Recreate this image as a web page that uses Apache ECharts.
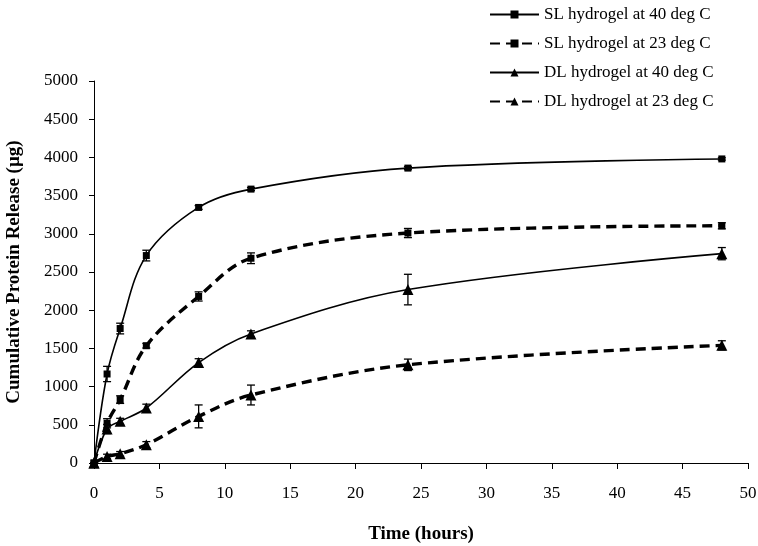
<!DOCTYPE html>
<html><head><meta charset="utf-8">
<script src="https://cdn.jsdelivr.net/npm/echarts@6/dist/echarts.min.js"></script>
<style>html,body{margin:0;padding:0;background:#fff}#c{width:758px;height:546px}</style>
</head><body><div id="c"></div>
<script>
const times = [0, 1, 2, 4, 8, 12, 24, 48];
const seriesNames = ["SL hydrogel at 40 deg C", "SL hydrogel at 23 deg C", "DL hydrogel at 40 deg C", "DL hydrogel at 23 deg C"];
const sl40 = [0, 1165, 1760, 2715, 3345, 3585, 3860, 3980];
const sl23 = [0, 520, 830, 1535, 2180, 2680, 3010, 3105];
const dl40 = [0, 445, 545, 720, 1315, 1690, 2270, 2740];
const dl23 = [0, 85, 120, 240, 610, 890, 1285, 1540];
const sl40Err = [0, 100, 70, 70, 25, 20, 20, 15];
const sl23Err = [0, 60, 50, 30, 60, 70, 60, 40];
const dl40Err = [0, 60, 40, 50, 50, 40, 200, 80];
const dl23Err = [0, 30, 30, 40, 150, 130, 75, 60];
const xTicks = [0, 5, 10, 15, 20, 25, 30, 35, 40, 45, 50];
const yTicks = [0, 500, 1000, 1500, 2000, 2500, 3000, 3500, 4000, 4500, 5000];

const FONT = '"Liberation Serif", "Times New Roman", serif';
const pair = (v) => times.map((t, i) => [t, v[i]]);
const errData = (v, e) => times.map((t, i) => [t, v[i] - e[i], v[i] + e[i]]);

function errSeries(v, e) {
  return {
    type: 'custom', silent: true, z: 1,
    renderItem: function (params, api) {
      const x = api.value(0);
      const lo = api.coord([x, api.value(1)]);
      const hi = api.coord([x, api.value(2)]);
      const w = 4;
      return { type: 'group', children: [
        { type: 'line', shape: { x1: lo[0], y1: lo[1], x2: hi[0], y2: hi[1] }, style: { stroke: '#000', lineWidth: 1.3 } },
        { type: 'line', shape: { x1: lo[0] - w, y1: lo[1], x2: lo[0] + w, y2: lo[1] }, style: { stroke: '#000', lineWidth: 1.3 } },
        { type: 'line', shape: { x1: hi[0] - w, y1: hi[1], x2: hi[0] + w, y2: hi[1] }, style: { stroke: '#000', lineWidth: 1.3 } }
      ]};
    },
    encode: { x: 0, y: [1, 2] },
    data: errData(v, e)
  };
}

function lineSeries(name, v, dashed, symbol, size) {
  return {
    name: name, type: 'line', data: pair(v), smooth: 0.35,
    symbol: symbol, symbolSize: size, showSymbol: true,
    itemStyle: { color: '#000' },
    lineStyle: { color: '#000', width: dashed ? 3.4 : 1.6, type: dashed ? [10, 6] : 'solid' },
    z: 3
  };
}

const chart = echarts.init(document.getElementById('c'), null, { renderer: 'canvas' });
chart.setOption({
  animation: false,
  backgroundColor: '#fff',
  grid: { left: 94, right: 10, top: 81, bottom: 83, containLabel: false, outerBoundsMode: 'none' },
  legend: {
    data: seriesNames, orient: 'vertical', left: 484, top: 1,
    itemWidth: 49, itemHeight: 10, itemGap: 12, itemTextGap: 5,
    textStyle: { fontFamily: FONT, fontSize: 17, color: '#000' }
  },
  xAxis: {
    type: 'value', min: 0, max: 50, interval: 5,
    name: 'Time (hours)', nameLocation: 'middle', nameGap: 62,
    nameTextStyle: { fontFamily: FONT, fontSize: 19, fontWeight: 'bold', color: '#000' },
    axisLine: { lineStyle: { color: '#000', width: 1 } },
    axisTick: { show: true, inside: false, length: 6, lineStyle: { color: '#000' } },
    axisLabel: { fontFamily: FONT, fontSize: 17, color: '#000', margin: 22 },
    splitLine: { show: false }
  },
  yAxis: {
    type: 'value', min: 0, max: 5000, interval: 500,
    name: 'Cumulative Protein Release (µg)', nameLocation: 'middle', nameGap: 70, nameRotate: 90,
    nameTextStyle: { fontFamily: FONT, fontSize: 19, fontWeight: 'bold', color: '#000' },
    axisLine: { show: true, lineStyle: { color: '#000', width: 1 } },
    axisTick: { show: true, inside: false, length: 5, lineStyle: { color: '#000' } },
    axisLabel: { fontFamily: FONT, fontSize: 17, color: '#000', margin: 16, formatter: (v) => String(v) },
    splitLine: { show: false }
  },
  series: [
    lineSeries(seriesNames[0], sl40, false, 'rect', 7),
    lineSeries(seriesNames[1], sl23, true, 'rect', 7),
    lineSeries(seriesNames[2], dl40, false, 'triangle', 11),
    lineSeries(seriesNames[3], dl23, true, 'triangle', 11),
    errSeries(sl40, sl40Err),
    errSeries(sl23, sl23Err),
    errSeries(dl40, dl40Err),
    errSeries(dl23, dl23Err)
  ]
});
</script></body></html>
